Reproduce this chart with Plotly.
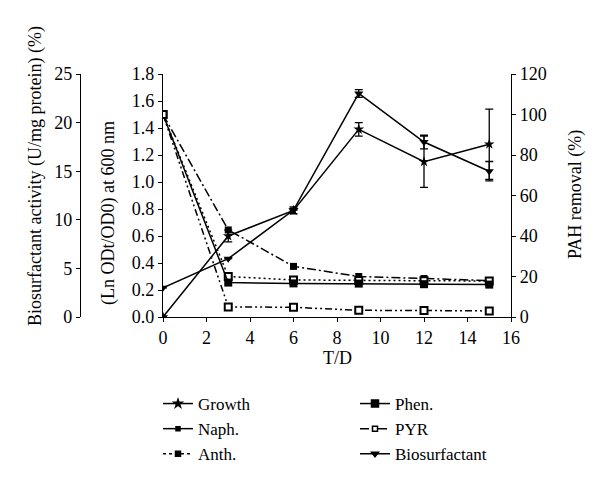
import plotly.graph_objects as go

# sampling days
days = [0, 3, 6, 9, 12, 15]

# growth, Ln(ODt/OD0) at 600 nm
growth = [0.0, 0.60, 0.79, 1.39, 1.15, 1.28]
growth_err = [0.0, 0.043, 0.025, 0.05, 0.19, 0.26]

# biosurfactant activity (U/mg protein)
biosurf = [3.0, 6.0, 11.0, 23.0, 18.0, 15.0]
biosurf_err = [0.0, 0.0, 0.0, 0.4, 0.7, 1.0]

# PAH removal (%)
phen = [100, 17.0, 16.6, 16.5, 16.2, 16.0]
naph = [100, 43.0, 25.0, 20.0, 19.0, 18.0]
anth = [100, 20.0, 18.3, 18.0, 17.9, 17.8]
pyr = [100, 5.0, 4.8, 3.3, 3.2, 3.0]

FONT = "Liberation Serif"
FS = 18
BLACK = "black"

# the page body has an 8px margin, so the figure is drawn 8px smaller
OFF = 8
W, H = 600 - OFF, 487 - OFF
# plot area edges in page pixels
X0, X1, Y0, Y1 = 163, 511, 74, 317
ML, MR, MT, MB = X0 - OFF, W - (X1 - OFF), Y0 - OFF, H - (Y1 - OFF)
GW, GH = W - ML - MR, H - MT - MB


def px(x):
    return (x - OFF - ML) / GW


def py(y):
    return (H - MB - (y - OFF)) / GH


fig = go.Figure()

# PAH removal lines (right axis)
fig.add_trace(go.Scatter(x=days, y=naph, yaxis="y2", mode="lines+markers",
                         line=dict(color=BLACK, width=1.5, dash="9px,3px,2px,3px"),
                         marker=dict(symbol="square", size=7, color=BLACK),
                         showlegend=False))
fig.add_trace(go.Scatter(x=days, y=anth, yaxis="y2", mode="lines+markers",
                         line=dict(color=BLACK, width=1.5, dash="2px,3px"),
                         marker=dict(symbol="square", size=7, color="white",
                                     line=dict(color=BLACK, width=2)),
                         showlegend=False))
fig.add_trace(go.Scatter(x=days, y=phen, yaxis="y2", mode="lines+markers",
                         line=dict(color=BLACK, width=1.5),
                         marker=dict(symbol="square", size=8, color=BLACK),
                         showlegend=False))
fig.add_trace(go.Scatter(x=days, y=pyr, yaxis="y2", mode="lines+markers",
                         line=dict(color=BLACK, width=1.5, dash="7px,3px,2px,3px,2px,3px"),
                         marker=dict(symbol="square", size=7, color="white",
                                     line=dict(color=BLACK, width=2)),
                         showlegend=False))

# growth (inner left axis)
fig.add_trace(go.Scatter(x=days, y=growth, yaxis="y", mode="lines+markers",
                         line=dict(color=BLACK, width=1.5),
                         marker=dict(symbol="star", size=8, color=BLACK),
                         error_y=dict(type="data", array=growth_err, color=BLACK,
                                      thickness=1.3, width=4),
                         showlegend=False))

# biosurfactant (far left axis)
fig.add_trace(go.Scatter(x=days, y=biosurf, yaxis="y3", mode="lines+markers",
                         line=dict(color=BLACK, width=1.5),
                         marker=dict(symbol="triangle-down", size=8, color=BLACK),
                         error_y=dict(type="data", array=biosurf_err, color=BLACK,
                                      thickness=1.3, width=4),
                         showlegend=False))

# legend entries, drawn the way the legend of the source shows them
# (two columns -> two legends)
legend_items = [
    ("Growth", "solid", "star", 6, BLACK, "legend"),
    ("Naph.", "solid", "square", 4, BLACK, "legend"),
    ("Anth.", "dot", "square", 5, BLACK, "legend"),
    ("Phen.", "solid", "square", 7, BLACK, "legend2"),
    ("PYR", "dashdot", "square", 5, "white", "legend2"),
    ("Biosurfactant", "solid", "triangle-down", 6, BLACK, "legend2"),
]
for name, dash, sym, size, fill, leg in legend_items:
    fig.add_trace(go.Scatter(x=[None], y=[None], name=name, mode="lines+markers",
                             legend=leg,
                             line=dict(color=BLACK, width=1.5, dash=dash),
                             marker=dict(symbol=sym, size=size, color=fill,
                                         line=dict(color=BLACK, width=1.5))))

axis_common = dict(showline=True, linecolor=BLACK, linewidth=1.3, ticks="outside",
                   tickcolor=BLACK, ticklen=4, showgrid=False, zeroline=False,
                   tickfont=dict(family=FONT, size=FS, color=BLACK))

legend_common = dict(orientation="v", yanchor="top", xanchor="left",
                     tracegroupgap=0, borderwidth=0, bgcolor="rgba(0,0,0,0)",
                     font=dict(family=FONT, size=17, color=BLACK))


def title_ann(text, x, y, angle=-90):
    return dict(text=text, x=px(x), y=py(y), xref="paper", yref="paper",
                textangle=angle, showarrow=False, xanchor="center",
                yanchor="middle", font=dict(family=FONT, size=FS, color=BLACK))


fig.update_layout(
    width=W, height=H,
    margin=dict(l=ML, r=MR, t=MT, b=MB, autoexpand=False),
    paper_bgcolor="white", plot_bgcolor="white",
    font=dict(family=FONT, size=FS, color=BLACK),
    xaxis=dict(domain=[0, 1], range=[0, 16], dtick=2, **axis_common),
    yaxis=dict(domain=[0, 1], range=[0, 1.8], dtick=0.2,
               tickformat=".1f", **axis_common),
    yaxis2=dict(overlaying="y", side="right", anchor="x", range=[0, 120],
                dtick=20, **axis_common),
    yaxis3=dict(overlaying="y", side="left", anchor="free", position=0,
                shift=80 - X0, autoshift=False,
                range=[0, 25], dtick=5, **axis_common),
    legend=dict(x=px(158), y=py(386), **legend_common),
    legend2=dict(x=px(355), y=py(386), **legend_common),
    annotations=[
        title_ann("Biosurfactant activity (U/mg protein) (%)", 35, 176),
        title_ann("(Ln ODt/OD0) at 600 nm", 108, 213),
        title_ann("PAH removal (%)", 575, 195),
        title_ann("T/D", 337, 358, angle=0),
    ],
)

fig.write_html("out.html")
